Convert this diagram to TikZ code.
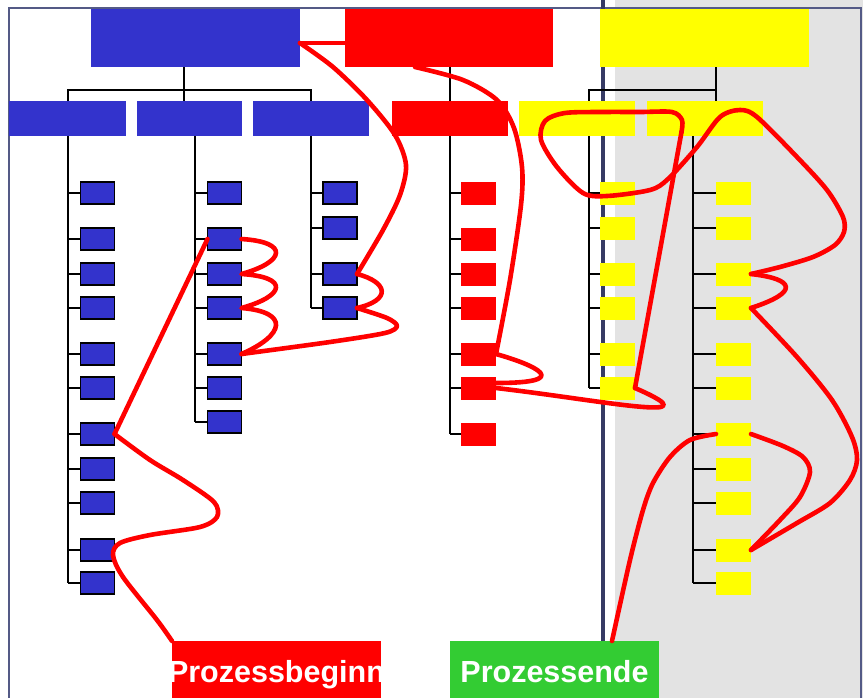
\documentclass[tikz,border=0pt]{standalone}
\usepackage{fontspec}
\setmainfont{Liberation Sans}
\definecolor{tblue}{RGB}{51,51,204}
\definecolor{tred}{RGB}{255,0,0}
\definecolor{tyel}{RGB}{255,255,0}
\definecolor{tgreen}{RGB}{51,204,51}
\definecolor{tgray}{RGB}{227,227,227}
\definecolor{tframe}{RGB}{84,90,134}
\definecolor{tdark}{RGB}{54,58,100}
\begin{document}
\begin{tikzpicture}[x=1pt,y=-1pt,
  topbox/.style={inner sep=0pt,outer sep=0pt,minimum width=209pt,minimum height=58pt},
  midbox/.style={inner sep=0pt,outer sep=0pt,minimum height=35pt},
  bsm/.style={fill=tblue,draw=black,line width=1.8pt,minimum width=34pt,minimum height=21.5pt,inner sep=0pt,outer sep=0pt},
  csm/.style={minimum width=35pt,minimum height=23pt,inner sep=0pt,outer sep=0pt},
  endbox/.style={inner sep=0pt,outer sep=0pt,minimum width=209pt,minimum height=60pt},
  endtext/.style={text=white,font=\bfseries\fontsize{30.5}{36}\selectfont,inner sep=0pt,anchor=base},
  tree/.style={draw=black,line width=1.8pt},
  rp/.style={draw=tred,line width=4.6pt,line cap=round,line join=round}]
\useasboundingbox (0,0) rectangle (863,697);
\clip (0,0) rectangle (863,697);
% background
\fill[tgray] (615,-5) rectangle (870,705);
\draw[tframe,line width=2pt] (9,8.3) rectangle (861,720);
\fill[tdark] (600.8,-5) rectangle (605.4,705);
% bus coordinates
\coordinate (xa) at (68,0);
\coordinate (xb) at (195,0);
\coordinate (xc) at (311,0);
\coordinate (xd) at (450,0);
\coordinate (xe) at (589,0);
\coordinate (xf) at (693,0);
\coordinate (ba) at (184,90);
\coordinate (bf) at (716,90);
% top level
\node[topbox,fill=tblue] (T1) at (195.5,38) {};
\node[topbox,fill=tred,minimum width=208pt] (T2) at (449,38) {};
\node[topbox,fill=tyel] (T3) at (704.5,38) {};
% second level
\node[midbox,fill=tblue,minimum width=117pt] (S1) at (67.5,118.5) {};
\node[midbox,fill=tblue,minimum width=105pt] (S2) at (189.5,118.5) {};
\node[midbox,fill=tblue,minimum width=116pt] (S3) at (311,118.5) {};
\node[midbox,fill=tred,minimum width=116pt] (S4) at (450,118.5) {};
\node[midbox,fill=tyel,minimum width=116pt] (S5) at (577,118.5) {};
\node[midbox,fill=tyel,minimum width=116pt] (S6) at (705,118.5) {};
% buses
\draw[tree] (T1.south -| ba) -- (ba);
\draw[tree] (S1.north -| xa) -- (xa |- ba) -- (xc |- ba) -- (S3.north -| xc);
\draw[tree] (ba) -- (S2.north -| ba);
\draw[tree] (T2.south -| xd) -- (S4.north -| xd);
\draw[tree] (T3.south -| bf) -- (bf) -- (xe |- bf) -- (S5.north -| xe);
\draw[tree] (bf) -- (S6.north -| bf);
% leaf boxes
\foreach \i/\y in {1/193,2/239,3/274,4/308,5/354,6/388,7/434,8/469,9/503,10/550,11/583}
  {\node[bsm] (a\i) at (97.5,\y) {};
   \draw[tree] (a\i.west) -- (a\i.west -| xa);}
\foreach \i/\y in {1/193,2/239,3/274,4/308,5/354,6/388,7/422}
  {\node[bsm] (b\i) at (224.5,\y) {};
   \draw[tree] (b\i.west) -- (b\i.west -| xb);}
\foreach \i/\y in {1/193,2/228,3/274,4/308}
  {\node[bsm] (c\i) at (340,\y) {};
   \draw[tree] (c\i.west) -- (c\i.west -| xc);}
\foreach \i/\y in {1/193,2/239,3/274,4/308,5/354,6/388,7/434}
  {\node[csm,fill=tred] (d\i) at (478.5,\y) {};
   \draw[tree] (d\i.west) -- (d\i.west -| xd);}
\foreach \i/\y in {1/193,2/228,3/274,4/308,5/354,6/388}
  {\node[csm,fill=tyel] (e\i) at (617.5,\y) {};
   \draw[tree] (e\i.west) -- (e\i.west -| xe);}
\foreach \i/\y in {1/193,2/228,3/274,4/308,5/354,6/388,7/434,8/469,9/503,10/550,11/583}
  {\node[csm,fill=tyel] (f\i) at (733.5,\y) {};
   \draw[tree] (f\i.west) -- (f\i.west -| xf);}
% column verticals
\draw[tree] (S1.south -| xa) -- (a11.west -| xa);
\draw[tree] (S2.south -| xb) -- (b7.west -| xb);
\draw[tree] (S3.south -| xc) -- (c4.west -| xc);
\draw[tree] (S4.south -| xd) -- (d7.west -| xd);
\draw[tree] (S5.south -| xe) -- (e6.west -| xe);
\draw[tree] (S6.south -| xf) -- (f11.west -| xf);
% start and end boxes
\node[endbox,fill=tred] (Pb) at (276.5,671) {};
\node[endbox,fill=tgreen] (Pe) at (554.5,671) {};
\begin{scope}
  \clip (Pb.south west) rectangle (Pb.north east);
  \node[endtext] (Pbt) at (276.5,682) {Prozessbeginn};
\end{scope}
\node[endtext] (Pet) at (554.5,682) {Prozessende};
% red process path
\draw[rp] plot[smooth] coordinates {(Pb.north west) (157,620) (123,577) (113,555) (120,543) (150,535) (200,527) (217,517) (214,502) (183,480) (150,460) (a7.east)};
\draw[rp] (a7.east) -- (b2.west);
\draw[rp] (b2.east) .. controls (290,242) and (285,262) .. (b3.east)
                    .. controls (290,277) and (285,296) .. (b4.east)
                    .. controls (290,312) and (285,335) .. (b5.east);
\draw[rp] plot[smooth] coordinates {(b5.east) (330,342) (385,333) (397,326) (387,318) (c4.east)};
\draw[rp] (c4.east) .. controls (392,300) and (388,282) .. (c3.east);
\draw[rp] plot[smooth] coordinates {(c3.east) (383,230) (400,195) (406,165) (395,135) (367,100) (333,67) ([yshift=-5pt]T1.east)};
\draw[rp] ([yshift=-5pt]T1.east) -- ([yshift=-5pt]T2.west);
\draw[rp] plot[smooth] coordinates {([xshift=-34pt]T2.south) (463,80) (497,100) (514,128) (522,167) (521,205) (510,280) (d5.east)};
\draw[rp] (d5.east) .. controls (535,365) and (575,383) .. ([yshift=5pt]d6.east);
\draw[rp] (d6.east) .. controls (600,400) and (720,425) .. (e6.east);
\draw[rp] (e6.east) -- (681.5,132);
\draw[rp] plot[smooth] coordinates {(681.5,132) (682,120) (672,112) (640,112) (603,112) (565,113) (545,121) (541,140) (557,167) (583,193) (607,196) (650,190) (668,179) (697,147) (720,117) (740,110) (757,117) (797,157) (827,190) (843,217) (844,232) (835,245) (813,257) (780,267) (f3.east)};
\draw[rp] (f3.east) .. controls (795,279) and (800,292) .. (f4.east);
\draw[rp] plot[smooth] coordinates {(f4.east) (797,357) (832,400) (852,437) (857,460) (850,480) (830,503) (797,523) (f10.east)};
\draw[rp] plot[smooth] coordinates {(f10.east) (780,520) (800,497) (810,472) (803,457) (783,446) (f7.east)};
\draw[rp] plot[smooth] coordinates {(f7.west) (690,440) (670,457) (653,483) (643,510) (630,560) ([xshift=57.5pt]Pe.north)};
\end{tikzpicture}
\end{document}
